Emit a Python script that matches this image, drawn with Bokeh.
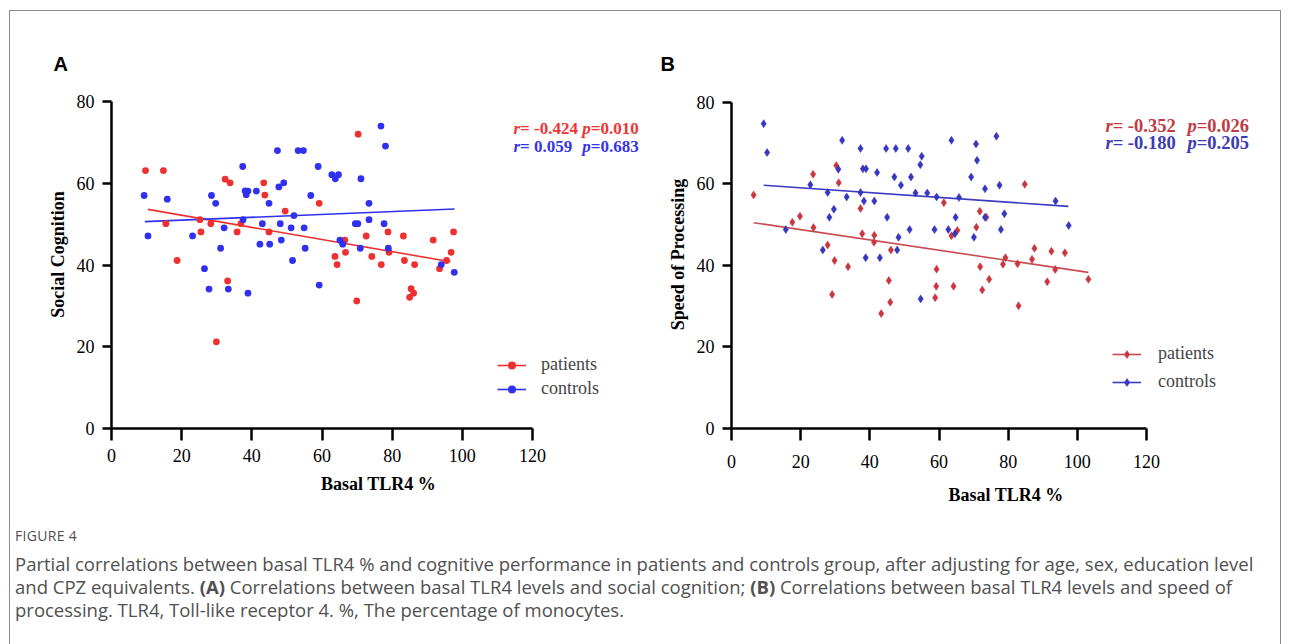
from bokeh.plotting import figure
from bokeh.models import Range1d, FixedTicker, Label, Legend, LegendItem, Div
from bokeh.layouts import column, row
from bokeh.embed import file_html
from bokeh.resources import INLINE

# ---------------- data ----------------
xticks = [0, 20, 40, 60, 80, 100, 120]
yticks = [0, 20, 40, 60, 80]

a_pat_x = [9.7, 14.8, 32.4, 33.8, 43.4, 43.7, 49.5, 59.2, 15.5, 25.2, 25.5, 28.3, 35.8, 36.9,
           44.9, 18.7, 33.1, 29.9, 70.3, 66.5, 63.7, 64.3, 66.7, 72.6, 74.2, 76.9, 78.8, 79.1,
           83.2, 83.5, 86.4, 91.7, 93.5, 95.5, 96.8, 97.5, 85.4, 86.1, 85.0, 69.9]
a_pat_y = [63.1, 63.1, 61.0, 60.1, 60.1, 57.1, 53.2, 55.1, 50.1, 51.1, 48.1, 50.1, 48.1, 50.1,
           48.1, 41.1, 36.1, 21.2, 72.0, 46.1, 42.1, 40.1, 43.1, 47.1, 42.1, 40.1, 48.1, 43.1,
           47.1, 41.1, 40.1, 46.1, 39.1, 41.1, 43.1, 48.1, 34.2, 33.1, 32.1, 31.2]
a_con_x = [9.3, 15.9, 10.4, 23.1, 28.5, 29.7, 31.1, 32.1, 26.5, 27.8, 33.3, 38.9, 37.4, 38.1,
           38.9, 38.4, 41.3, 37.5, 43.0, 42.3, 45.1, 44.9, 47.3, 53.2, 54.7, 47.7, 49.1, 48.1,
           48.4, 51.2, 52.0, 54.9, 55.2, 51.6, 56.8, 58.9, 59.2, 76.8, 78.1, 62.8, 64.7, 63.8,
           71.1, 73.4, 73.4, 69.5, 70.2, 77.7, 65.1, 65.9, 70.9, 78.9, 94.0, 97.7]
a_con_y = [57.0, 56.1, 47.1, 47.1, 57.0, 55.1, 44.1, 49.1, 39.1, 34.1, 34.1, 33.1, 64.1, 58.1,
           58.1, 57.2, 58.1, 51.1, 50.1, 45.1, 45.1, 55.1, 68.0, 68.0, 68.0, 59.1, 60.1, 50.1,
           46.1, 49.1, 52.1, 49.1, 44.1, 41.1, 57.0, 64.1, 35.1, 74.0, 69.1, 62.1, 62.1, 61.1,
           61.1, 55.1, 51.1, 50.1, 50.1, 50.1, 46.1, 45.1, 44.1, 44.1, 40.1, 38.2]
a_pat_fit_x = [10.4, 96.6]
a_pat_fit_y = [53.6, 40.8]
a_con_fit_x = [9.5, 97.8]
a_con_fit_y = [50.6, 53.7]

b_pat_x = [6.4, 23.6, 30.3, 31.0, 37.3, 19.8, 17.6, 23.7, 37.8, 41.3, 41.2, 27.8, 46.1, 29.8,
           33.7, 45.5, 29.1, 45.9, 43.3, 59.3, 59.2, 58.9, 84.8, 61.4, 71.8, 73.7, 70.8, 65.3,
           63.6, 87.6, 92.5, 96.4, 79.2, 78.5, 82.7, 86.9, 93.6, 71.9, 64.2, 74.5, 72.5, 91.3,
           103.2, 83.0]
b_pat_y = [57.3, 62.4, 64.5, 60.3, 54.0, 52.1, 50.6, 49.3, 47.8, 47.4, 45.7, 45.0, 43.8, 41.2,
           39.7, 36.3, 32.9, 31.0, 28.2, 39.1, 34.9, 32.1, 59.9, 55.4, 53.3, 51.8, 49.4, 48.6,
           47.3, 44.2, 43.5, 43.1, 41.9, 40.3, 40.4, 41.5, 39.0, 39.7, 34.9, 36.6, 34.0, 36.0,
           36.6, 30.1]
b_con_x = [9.3, 10.3, 22.8, 32.0, 30.9, 27.8, 29.6, 28.3, 33.3, 15.7, 26.4, 37.3, 38.0, 38.9,
           37.3, 38.3, 41.3, 42.1, 44.7, 47.5, 51.1, 47.1, 49.0, 51.9, 55.0, 54.6, 53.2, 56.6,
           59.3, 45.0, 51.5, 58.7, 48.3, 47.9, 38.8, 42.9, 54.7, 63.6, 70.7, 71.0, 76.6, 69.3,
           77.5, 73.3, 65.8, 93.7, 64.8, 73.3, 78.9, 62.7, 64.6, 70.1, 77.9, 97.5]
b_con_y = [74.8, 67.7, 59.8, 70.7, 63.6, 57.9, 53.8, 51.8, 56.8, 48.8, 43.8, 68.7, 63.7, 63.7,
           57.9, 55.8, 55.8, 62.8, 68.7, 68.7, 68.7, 61.7, 59.7, 61.7, 66.8, 64.7, 57.8, 57.8,
           56.8, 51.8, 48.8, 48.8, 46.9, 43.8, 41.9, 41.9, 31.8, 70.7, 69.8, 65.8, 71.7, 61.7,
           59.7, 58.8, 56.7, 55.8, 51.8, 51.8, 52.7, 48.8, 47.8, 46.9, 48.8, 49.8]
b_pat_fit_x = [6.4, 103.2]
b_pat_fit_y = [50.5, 38.3]
b_con_fit_x = [9.3, 97.4]
b_con_fit_y = [59.7, 54.5]

series_labels = ["patients", "controls"]
panel_titles = ["A", "B"]
stats_a = [("-0.424", "0.010"), ("0.059", "0.683")]
stats_b = [("-0.352", "0.026"), ("-0.180", "0.205")]

caption_head = "FIGURE 4"
caption_html = (
    "Partial correlations between basal TLR4 % and cognitive performance in patients and controls group, "
    "after adjusting for age, sex, education level<br>"
    "and CPZ equivalents. <b>(A)</b> Correlations between basal TLR4 levels and social cognition; "
    "<b>(B)</b> Correlations between basal TLR4 levels and speed of<br>"
    "processing. TLR4, Toll-like receptor 4. %, The percentage of monocytes."
)

SERIF = "Liberation Serif"


def style_axes(p, tick_out_x, tick_out_y, lab_x, lab_y, xstand, ystand, xls, yls):
    p.xaxis.ticker = FixedTicker(ticks=xticks, minor_ticks=[])
    p.yaxis.ticker = FixedTicker(ticks=yticks, minor_ticks=[])
    p.xaxis.bounds = (0, 120)
    p.yaxis.bounds = (0, 80)
    for ax, out in ((p.xaxis, tick_out_x), (p.yaxis, tick_out_y)):
        ax.axis_line_width = 2.5
        ax.axis_line_color = "black"
        ax.major_tick_line_width = 2.5
        ax.major_tick_line_color = "black"
        ax.major_tick_out = out
        ax.major_tick_in = 0
        ax.minor_tick_line_color = None
        ax.major_label_text_font = SERIF
        ax.major_label_text_font_size = "18px"
        ax.major_label_text_color = "black"
        ax.axis_label_text_font = SERIF
        ax.axis_label_text_font_size = "18px"
        ax.axis_label_text_font_style = "bold"
        ax.axis_label_text_color = "black"
    p.xaxis.axis_label = lab_x
    p.yaxis.axis_label = lab_y
    p.xaxis.major_label_standoff = xstand
    p.yaxis.major_label_standoff = ystand
    p.xaxis.axis_label_standoff = xls
    p.yaxis.axis_label_standoff = yls
    p.xgrid.visible = False
    p.ygrid.visible = False
    p.outline_line_color = None


def style_title(p, offset):
    p.title.align = "left"
    p.title.offset = offset
    p.title.standoff = 11
    p.title.text_font = "Liberation Sans"
    p.title.text_font_style = "bold"
    p.title.text_font_size = "20px"
    p.title.text_color = "black"


def stat_line(p, x, y, rval, pval, xp, size, color):
    # rich text: italic r / p, bold values
    w_r = 0.389 * size
    w_p = 0.500 * size
    segs = [(x, "r", "bold italic"), (x + w_r, "= " + rval, "bold"),
            (xp, "p", "bold italic"), (xp + w_p, "=" + pval, "bold")]
    for sx, t, st in segs:
        p.add_layout(Label(x=sx, y=y, x_units="screen", y_units="screen", text=t,
                           text_font=SERIF, text_font_style=st, text_font_size=f"{size}px",
                           text_color=color, text_baseline="middle", text_align="left"))


TOP = 69  # space above the plotting frame (panel letter lives here)

# ---------------- Panel A ----------------
pxA = 421 / 120.0
pyA = 327 / 80.0
pA = figure(width=635, height=499, output_backend="svg", toolbar_location=None,
            title=panel_titles[0],
            x_range=Range1d(0, 534 / pxA), y_range=Range1d(0, (499 - TOP - 82) / pyA),
            min_border_left=101, min_border_right=0, min_border_top=TOP, min_border_bottom=82)
style_axes(pA, 12, 9, "Basal TLR4 %", "Social Cognition", 8, 8, 9, 6)
style_title(pA, -58)
redA, blueA = "#EE3030", "#3030EE"
lA1 = pA.line(a_pat_fit_x, a_pat_fit_y, line_color=redA, line_width=1.6)
lA2 = pA.line(a_con_fit_x, a_con_fit_y, line_color=blueA, line_width=1.6)
sA1 = pA.scatter(a_pat_x, a_pat_y, marker="circle", size=6.8, fill_color=redA, line_color=None)
sA2 = pA.scatter(a_con_x, a_con_y, marker="circle", size=6.8, fill_color=blueA, line_color=None)
legA = Legend(items=[LegendItem(label=series_labels[0], renderers=[lA1, sA1]),
                     LegendItem(label=series_labels[1], renderers=[lA2, sA2])],
              location=(386, 29), glyph_width=29, glyph_height=20, label_height=20,
              label_standoff=15, spacing=3, padding=0, margin=0,
              border_line_color=None, background_fill_alpha=0,
              label_text_font=SERIF, label_text_font_size="18px")
pA.add_layout(legA)
stat_line(pA, 402, 300, stats_a[0][0], stats_a[0][1], 581.7 - 111, 17, "#EE3535")
stat_line(pA, 402, 282.5, " " + stats_a[1][0], stats_a[1][1], 581.7 - 111, 17, "#3535EE")

# ---------------- Panel B ----------------
pxB = 415 / 120.0
pyB = 327 / 80.0
pB = figure(width=635, height=499, output_backend="svg", toolbar_location=None,
            title=panel_titles[1],
            x_range=Range1d(0, 549 / pxB), y_range=Range1d(0, (499 - TOP - 81) / pyB),
            min_border_left=86, min_border_right=0, min_border_top=TOP, min_border_bottom=81)
style_axes(pB, 12, 9, "Basal TLR4 %", "Speed of Processing", 14, 8, 14, 6)
style_title(pB, -71)
redB, blueB = "#C93640", "#3737BE"
lB1 = pB.line(b_pat_fit_x, b_pat_fit_y, line_color="#CC4A52", line_width=1.6)
lB2 = pB.line(b_con_fit_x, b_con_fit_y, line_color="#3B3BC2", line_width=1.6)
sB1 = pB.scatter(b_pat_x, b_pat_y, marker="diamond", size=8, fill_color=redB, line_color=redB, line_width=0.5)
sB2 = pB.scatter(b_con_x, b_con_y, marker="diamond", size=8, fill_color=blueB, line_color=blueB, line_width=0.5)
legB = Legend(items=[LegendItem(label=series_labels[0], renderers=[lB1, sB1]),
                     LegendItem(label=series_labels[1], renderers=[lB2, sB2])],
              location=(381, 36), glyph_width=29, glyph_height=20, label_height=20,
              label_standoff=17, spacing=7, padding=0, margin=0,
              border_line_color=None, background_fill_alpha=0,
              label_text_font=SERIF, label_text_font_size="18px")
pB.add_layout(legB)
stat_line(pB, 374, 303, stats_b[0][0], stats_b[0][1], 1187 - 731, 18.5, "#C23A44")
stat_line(pB, 374, 285.5, stats_b[1][0], stats_b[1][1], 1187 - 731, 18.5, "#3B3BB2")

# ---------------- Caption ----------------
cap = Div(
    text=(
        '<div style="font-family:\'Open Sans\';color:#505050;white-space:nowrap;padding-left:5px;">'
        f'<div style="font-size:14px;line-height:20px;margin-top:16px;letter-spacing:0.3px;">{caption_head}</div>'
        f'<div style="font-size:18.5px;line-height:23px;margin-top:5.5px;">{caption_html}</div>'
        '</div>'
    ),
    width=1270, height=134, margin=0,
)

layout = column(row(pA, pB, spacing=0), cap, spacing=0, margin=(10, 0, 0, 9),
                styles={"border-top": "1px solid #8c8c8c", "border-left": "1px solid #8c8c8c",
                        "border-right": "1px solid #8c8c8c"})

open("out.html", "w").write(file_html(layout, INLINE))
